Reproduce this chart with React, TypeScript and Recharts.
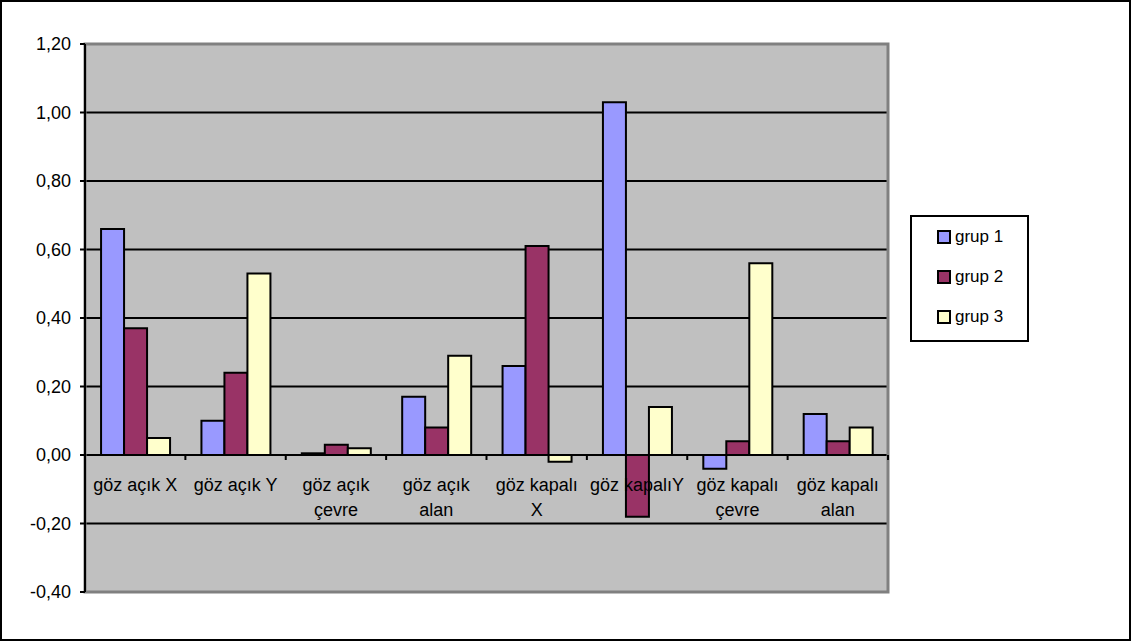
import React from "react";
import {
  BarChart,
  Bar,
  XAxis,
  YAxis,
  CartesianGrid,
  Legend,
  ReferenceArea,
} from "recharts";

const categories = [
  "göz açık X",
  "göz açık Y",
  "göz açık çevre",
  "göz açık alan",
  "göz kapalı X",
  "göz kapalıY",
  "göz kapalı çevre",
  "göz kapalı alan",
];
const grup1 = [0.66, 0.1, 0.005, 0.17, 0.26, 1.03, -0.04, 0.12];
const grup2 = [0.37, 0.24, 0.03, 0.08, 0.61, -0.18, 0.04, 0.04];
const grup3 = [0.05, 0.53, 0.02, 0.29, -0.02, 0.14, 0.56, 0.08];
const yTicks = [-0.4, -0.2, 0, 0.2, 0.4, 0.6, 0.8, 1.0, 1.2];

const seriesNames = ["grup 1", "grup 2", "grup 3"];
const seriesColors = ["#9999FF", "#993366", "#FFFFCC"];

const data = categories.map((name, i) => ({
  name,
  g1: grup1[i],
  g2: grup2[i],
  g3: grup3[i],
}));

const FONT = "'Liberation Sans', Arial, sans-serif";
const LABEL_SIZE = 18;
const CHART_W = 1127;
const CHART_H = 637;
const X_AXIS_H = 30;
const MARGIN = { top: 42, right: 241, bottom: 47 - X_AXIS_H, left: 0 };
const Y_AXIS_W = 83;
const PLOT_W = CHART_W - MARGIN.left - MARGIN.right - Y_AXIS_W;
const PLOT_H = CHART_H - MARGIN.top - MARGIN.bottom - X_AXIS_H;
const Y_MIN = yTicks[0];
const Y_MAX = yTicks[yTicks.length - 1];
// category labels and boundary ticks sit on the zero line, not the plot bottom
const ZERO_Y = MARGIN.top + (PLOT_H * Y_MAX) / (Y_MAX - Y_MIN);
const BAND = PLOT_W / categories.length;
const WRAP_W = 95;

const fmt = (v: number) => v.toFixed(2).replace(".", ",");

let ctx: CanvasRenderingContext2D | null = null;
function textWidth(s: string) {
  if (!ctx) {
    ctx = document.createElement("canvas").getContext("2d");
    if (ctx) ctx.font = `${LABEL_SIZE}px ${FONT}`;
  }
  return ctx ? ctx.measureText(s).width : s.length * LABEL_SIZE * 0.5;
}

// greedy word wrap, like the spreadsheet does for long category names
function wrap(label: string) {
  const words = label.split(" ");
  const lines: string[] = [];
  let cur = "";
  for (const w of words) {
    const next = cur ? `${cur} ${w}` : w;
    if (cur && textWidth(next) > WRAP_W) {
      lines.push(cur);
      cur = w;
    } else {
      cur = next;
    }
  }
  if (cur) lines.push(cur);
  return lines;
}

function CategoryTick(props: any) {
  const { x, payload, index } = props;
  const left = x - BAND / 2;
  const right = x + BAND / 2;
  const lines = wrap(String(payload.value));
  return (
    <g>
      <line x1={left} x2={left} y1={ZERO_Y} y2={ZERO_Y + 5} stroke="#000" strokeWidth={2} />
      {index === categories.length - 1 && (
        <line x1={right} x2={right} y1={ZERO_Y} y2={ZERO_Y + 5} stroke="#000" strokeWidth={2} />
      )}
      <text
        x={x}
        y={ZERO_Y + 36}
        textAnchor="middle"
        fill="#000"
        fontFamily={FONT}
        fontSize={LABEL_SIZE}
      >
        {lines.map((ln, i) => (
          <tspan key={i} x={x} dy={i === 0 ? 0 : 25}>
            {ln}
          </tspan>
        ))}
      </text>
    </g>
  );
}

function LegendBox(props: any) {
  const { payload } = props;
  return (
    <div
      style={{
        width: 119,
        height: 127,
        boxSizing: "border-box",
        border: "2px solid #000",
        background: "#fff",
        position: "relative",
        fontFamily: FONT,
        fontSize: 17,
      }}
    >
      {(payload || []).map((item: any, i: number) => (
        <div
          key={item.value}
          style={{
            position: "absolute",
            left: 25,
            top: 8 + i * 40,
            height: 24,
            display: "flex",
            alignItems: "center",
          }}
        >
          <span
            style={{
              display: "inline-block",
              width: 10,
              height: 10,
              background: item.color,
              border: "2px solid #000",
              marginRight: 4,
            }}
          />
          <span style={{ color: "#000" }}>{item.value}</span>
        </div>
      ))}
    </div>
  );
}

export default function App() {
  return (
    <div
      style={{
        position: "absolute",
        left: 0,
        top: 0,
        width: CHART_W + 4,
        height: CHART_H + 4,
        border: "2px solid #000",
        boxSizing: "border-box",
        background: "#fff",
      }}
    >
      <BarChart
        width={CHART_W}
        height={CHART_H}
        data={data}
        margin={MARGIN}
        barCategoryGap="16%"
        barGap={0}
      >
        <CartesianGrid
          vertical={false}
          horizontalValues={[-0.2, 0, 0.2, 0.4, 0.6, 0.8, 1.0]}
          stroke="#000"
          strokeWidth={2}
          fill="#C0C0C0"
        />
        <ReferenceArea
          y1={Y_MIN}
          y2={Y_MAX}
          fill="none"
          stroke="#808080"
          strokeWidth={3}
          ifOverflow="visible"
        />
        <XAxis
          dataKey="name"
          height={X_AXIS_H}
          axisLine={false}
          tickLine={false}
          tick={<CategoryTick />}
          interval={0}
        />
        <YAxis
          width={Y_AXIS_W}
          domain={[Y_MIN, Y_MAX]}
          ticks={yTicks}
          interval={0}
          tickFormatter={fmt}
          axisLine={{ stroke: "#000", strokeWidth: 2 }}
          tickLine={{ stroke: "#000", strokeWidth: 2 }}
          tickSize={5}
          tickMargin={9}
          tick={{ fill: "#000", fontFamily: FONT, fontSize: 18 }}
        />
        <Legend
          layout="vertical"
          align="center"
          verticalAlign="middle"
          wrapperStyle={{ left: 908, top: 213, width: 119, height: 127 }}
          content={<LegendBox />}
        />
        <Bar dataKey="g1" name={seriesNames[0]} fill={seriesColors[0]} stroke="#000" strokeWidth={2} isAnimationActive={false} />
        <Bar dataKey="g2" name={seriesNames[1]} fill={seriesColors[1]} stroke="#000" strokeWidth={2} isAnimationActive={false} />
        <Bar dataKey="g3" name={seriesNames[2]} fill={seriesColors[2]} stroke="#000" strokeWidth={2} isAnimationActive={false} />
      </BarChart>
    </div>
  );
}
